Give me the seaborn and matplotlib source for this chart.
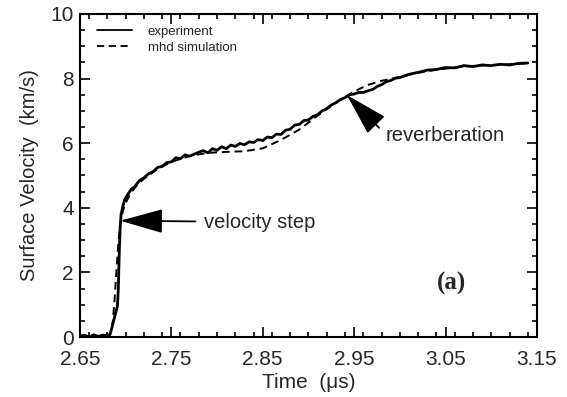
import matplotlib
matplotlib.use("Agg")
import matplotlib.pyplot as plt
import seaborn as sns
import pandas as pd
from matplotlib.ticker import MultipleLocator

# ---- data ----
exp_t = [2.650, 2.655, 2.660, 2.665, 2.670, 2.675, 2.680, 2.683, 2.686, 2.689,
         2.691, 2.692, 2.693, 2.694, 2.695, 2.697, 2.699, 2.702, 2.706, 2.710,
         2.715, 2.720, 2.725, 2.730, 2.735, 2.740, 2.745, 2.750, 2.755, 2.760,
         2.765, 2.770, 2.775, 2.780, 2.785, 2.790, 2.795, 2.800, 2.805, 2.810,
         2.815, 2.820, 2.825, 2.830, 2.835, 2.840, 2.845, 2.850, 2.855, 2.860,
         2.865, 2.870, 2.875, 2.880, 2.885, 2.890, 2.895, 2.900, 2.905, 2.910,
         2.915, 2.920, 2.925, 2.930, 2.935, 2.940, 2.945, 2.950, 2.955, 2.960,
         2.965, 2.970, 2.975, 2.980, 2.985, 2.990, 2.995, 3.000, 3.010, 3.020,
         3.030, 3.040, 3.050, 3.060, 3.070, 3.080, 3.090, 3.100, 3.110, 3.120,
         3.130, 3.140]
exp_v = [0.02, 0.06, 0.00, 0.07, 0.02, 0.06, 0.03, 0.08, 0.40, 0.75,
         0.95, 1.50, 2.60, 3.40, 3.80, 4.05, 4.25, 4.40, 4.57, 4.66,
         4.84, 4.93, 5.05, 5.12, 5.25, 5.28, 5.40, 5.42, 5.55, 5.52,
         5.64, 5.60, 5.66, 5.72, 5.77, 5.70, 5.83, 5.78, 5.89, 5.83,
         5.94, 5.90, 5.99, 5.95, 6.04, 6.02, 6.11, 6.08, 6.19, 6.17,
         6.28, 6.27, 6.40, 6.43, 6.56, 6.58, 6.70, 6.72, 6.83, 6.88,
         7.00, 7.07, 7.18, 7.25, 7.35, 7.41, 7.50, 7.52, 7.57, 7.57,
         7.62, 7.66, 7.75, 7.81, 7.90, 7.94, 8.01, 8.03, 8.13, 8.19,
         8.26, 8.28, 8.34, 8.33, 8.40, 8.37, 8.42, 8.40, 8.44, 8.42,
         8.47, 8.48]

sim_t = [2.650, 2.670, 2.680, 2.684, 2.686, 2.688, 2.690, 2.692, 2.694, 2.697,
         2.700, 2.705, 2.710, 2.720, 2.735, 2.750, 2.770, 2.790, 2.810, 2.830,
         2.850, 2.870, 2.890, 2.910, 2.930, 2.950, 2.965, 2.980, 3.000, 3.020,
         3.040, 3.060, 3.080, 3.100, 3.120, 3.140]
sim_v = [0.00, 0.00, 0.02, 0.15, 0.50, 1.20, 2.10, 2.90, 3.50, 3.90,
         4.15, 4.42, 4.62, 4.90, 5.20, 5.42, 5.60, 5.70, 5.73, 5.75,
         5.84, 6.10, 6.42, 6.85, 7.25, 7.60, 7.80, 7.93, 8.05, 8.18,
         8.27, 8.34, 8.39, 8.42, 8.44, 8.47]

series_names = ["experiment", "mhd simulation"]

df = pd.concat([
    pd.DataFrame({"t": exp_t, "v": exp_v, "series": series_names[0]}),
    pd.DataFrame({"t": sim_t, "v": sim_v, "series": series_names[1]}),
], ignore_index=True)

sns.set_theme(style="ticks")
plt.rcParams["font.family"] = ["Liberation Sans", "DejaVu Sans"]

fig = plt.figure(figsize=(5.67, 3.97), dpi=100)
ax = fig.add_axes([0.141, 0.151, 0.806, 0.814])

sns.lineplot(data=df, x="t", y="v", hue="series", style="series",
             palette=["black", "black"],
             dashes={"experiment": "", "mhd simulation": (4, 2.5)},
             ax=ax, legend=True)
for ln, lw in zip(ax.lines, [2.0, 1.4]):
    ln.set_linewidth(lw)

ax.set_xlim(2.65, 3.15)
ax.set_ylim(0, 10)
ax.set_xticks([2.65, 2.75, 2.85, 2.95, 3.05, 3.15])
ax.set_xticklabels(["2.65", "2.75", "2.85", "2.95", "3.05", "3.15"])
ax.xaxis.set_minor_locator(MultipleLocator(0.02))
ax.yaxis.set_major_locator(MultipleLocator(2))
ax.yaxis.set_minor_locator(MultipleLocator(0.5))
ax.tick_params(which="both", direction="in", top=True, right=True,
               color="black", labelsize=15, width=1.2)
ax.tick_params(which="major", length=7)
ax.tick_params(which="minor", length=3.5)
ax.tick_params(axis="x", which="major", pad=9)
ax.tick_params(axis="y", which="major", pad=4.5)
for s in ax.spines.values():
    s.set_linewidth(1.5)
    s.set_color("black")

ax.set_xlabel("Time  (\u03bcs)", fontsize=15, labelpad=3)
ax.set_ylabel("Surface Velocity  (km/s)", fontsize=14.5, labelpad=8)

leg = ax.legend(loc="upper left", bbox_to_anchor=(0.026, 0.981),
                borderaxespad=0, frameon=False, fontsize=9.5,
                handlelength=2.65, handletextpad=1.2, labelspacing=0.3)
for h in leg.get_lines():
    h.set_linewidth(1.3)

arrow_kw = dict(arrowstyle="-|>,head_length=1.35,head_width=0.38",
                color="black", lw=1.3, shrinkB=0, mutation_scale=20)
ax.annotate("velocity step", xy=(2.694, 3.6), xytext=(2.786, 3.56),
            fontsize=14.5, va="center", ha="left",
            arrowprops=dict(shrinkA=4, **arrow_kw))
ax.annotate("reverberation", xy=(2.942, 7.49), xytext=(2.984, 6.25),
            fontsize=14.5, va="center", ha="left",
            arrowprops=dict(shrinkA=3, relpos=(0, 0.55), **arrow_kw))
ax.text(3.057, 1.67, "(a)", fontsize=18, fontweight="bold",
        family=["Liberation Serif", "DejaVu Serif"], ha="center", va="center")

fig.savefig("out.png", dpi=100)
